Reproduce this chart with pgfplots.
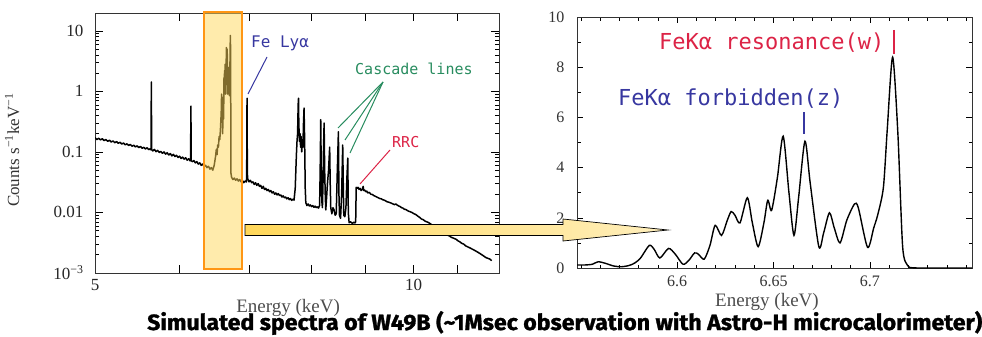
\documentclass[border=0pt]{standalone}
\usepackage{fontspec}
\setmainfont{Liberation Serif}
\newfontfamily\monof{DejaVu Sans Mono}
\newfontfamily\capf{Fira Sans}[BoldFeatures={FakeBold=1.2}]
\usepackage{pgfplots}
\pgfplotsset{compat=1.18}
\definecolor{lblue}{RGB}{55,55,160}
\definecolor{lgreen}{RGB}{40,140,95}
\definecolor{lred}{RGB}{220,35,70}
\definecolor{boxorange}{RGB}{255,150,20}
\definecolor{boxfill}{RGB}{255,215,90}
\begin{document}
\begin{tikzpicture}
\useasboundingbox (0pt,0pt) rectangle (982pt,-337pt);
% ---------------- left panel ----------------
\begin{axis}[
  at={(95pt,-273pt)}, anchor=south west,
  width=404pt, height=260pt, scale only axis,
  xmode=log, ymode=log,
  xmin=5, xmax=12.04, ymin=1e-3, ymax=19.7,
  xtick={5,6,7,8,9,10,11}, xticklabels={5,,,,,10,},
  ytick={0.001,0.01,0.1,1,10},
  yticklabels={10\textsuperscript{−3},0.01,0.1,1,10},
  minor ytick={0.002,0.003,0.004,0.005,0.006,0.007,0.008,0.009,0.02,0.03,0.04,0.05,0.06,0.07,0.08,0.09,0.2,0.3,0.4,0.5,0.6,0.7,0.8,0.9,2,3,4,5,6,7,8,9},
  major tick length=8pt, minor tick length=4pt,
  tick style={black, line width=0.6pt},
  axis line style={black!80, line width=0.8pt},
  ticklabel style={font=\fontsize{17}{17}\selectfont, text=black!85},
  yticklabel style={xshift=-8pt},
  xticklabel style={yshift=-3pt},
  xlabel={Energy (keV)}, ylabel={Counts s\textsuperscript{−1}keV\textsuperscript{−1}},
  every axis x label/.style={at={(rel axis cs:0.478,0)}, anchor=center, yshift=-35pt, font=\fontsize{19}{19}\selectfont, text=black!70},
  every axis y label/.style={at={(rel axis cs:-0.205,0.473)}, anchor=center, rotate=90, font=\fontsize{17}{17}\selectfont, text=black!80},
]
\addplot[black, line width=1.5pt, line join=round] coordinates {
(5.00,0.172)(5.02,0.160)(5.04,0.168)(5.06,0.158)(5.08,0.165)(5.10,0.154)(5.12,0.160)(5.14,0.150)(5.16,0.156)(5.18,0.146)
(5.20,0.152)(5.22,0.142)(5.24,0.148)(5.26,0.139)(5.28,0.144)(5.30,0.135)(5.32,0.140)(5.34,0.131)(5.36,0.136)(5.38,0.128)
(5.40,0.133)(5.42,0.124)(5.44,0.129)(5.46,0.121)(5.48,0.126)(5.50,0.118)(5.52,0.123)(5.54,0.115)(5.56,0.119)(5.58,0.112)
(5.60,0.117)(5.62,0.109)(5.64,0.113)(5.648,0.108)(5.652,1.43)(5.656,0.110)(5.67,0.104)(5.69,0.110)(5.71,0.101)(5.73,0.106)
(5.75,0.098)(5.77,0.102)(5.79,0.095)(5.81,0.100)(5.83,0.092)(5.85,0.097)(5.87,0.089)(5.89,0.094)(5.91,0.086)(5.93,0.091)
(5.95,0.084)(5.97,0.088)(5.99,0.081)(6.01,0.085)(6.03,0.078)(6.05,0.082)(6.07,0.076)(6.09,0.080)(6.11,0.073)(6.13,0.077)
(6.15,0.071)(6.156,0.074)(6.160,0.57)(6.164,0.072)(6.18,0.069)(6.20,0.072)(6.22,0.066)(6.24,0.069)(6.26,0.063)(6.28,0.066)
(6.30,0.060)(6.32,0.063)(6.34,0.057)(6.36,0.060)(6.38,0.055)(6.40,0.058)(6.42,0.052)(6.44,0.055)
(6.46,0.050)(6.48,0.060)(6.50,0.085)(6.51,0.11)(6.52,0.09)(6.53,0.13)(6.54,0.12)(6.55,0.18)(6.56,0.16)(6.57,0.25)
(6.58,0.45)(6.585,0.9)(6.59,0.45)(6.595,0.8)(6.60,0.2)(6.605,0.35)(6.61,0.6)(6.614,0.35)(6.62,1.7)(6.623,1.2)
(6.628,2.2)(6.633,1.8)(6.636,2.8)(6.642,0.9)(6.647,2.7)(6.650,2.3)(6.655,5.3)(6.660,1.3)(6.666,5.0)(6.673,0.9)
(6.679,2.2)(6.685,1.0)(6.692,2.5)(6.699,0.85)(6.704,2.1)(6.707,3.2)(6.712,8.4)(6.715,5.4)(6.717,0.9)(6.720,0.045)
(6.73,0.038)(6.75,0.035)(6.77,0.037)(6.79,0.034)(6.81,0.036)(6.83,0.033)(6.85,0.035)(6.87,0.032)(6.89,0.034)(6.91,0.031)
(6.93,0.033)(6.950,0.032)(6.955,0.040)(6.960,0.77)(6.965,0.045)(6.970,0.036)(6.99,0.032)(7.01,0.034)(7.03,0.031)(7.05,0.032)
(7.07,0.029)(7.09,0.031)(7.11,0.028)(7.13,0.030)(7.15,0.027)(7.17,0.028)(7.19,0.025)(7.21,0.027)(7.23,0.024)(7.25,0.025)
(7.27,0.023)(7.29,0.024)(7.31,0.022)(7.33,0.023)(7.35,0.021)(7.37,0.022)(7.39,0.020)(7.41,0.021)(7.43,0.0195)(7.45,0.0205)
(7.47,0.019)(7.49,0.0195)(7.51,0.018)(7.53,0.0188)(7.55,0.0175)(7.57,0.018)(7.59,0.0168)(7.61,0.0175)(7.63,0.0163)(7.65,0.017)
(7.67,0.0158)(7.69,0.0165)(7.71,0.016)(7.73,0.025)(7.75,0.09)(7.76,0.15)(7.77,0.2)(7.78,0.6)(7.785,0.77)(7.79,0.3)
(7.80,0.15)(7.81,0.2)(7.82,0.12)(7.83,0.18)(7.84,0.1)(7.85,0.15)(7.86,0.12)(7.87,0.3)(7.88,0.53)(7.89,0.15)
(7.90,0.025)(7.91,0.0145)(7.93,0.013)(7.95,0.0138)(7.97,0.0128)(7.99,0.0133)(8.01,0.0125)(8.03,0.013)(8.05,0.0122)(8.07,0.0127)
(8.09,0.012)(8.11,0.0124)(8.13,0.0118)(8.15,0.013)(8.16,0.05)(8.17,0.34)(8.18,0.04)(8.19,0.015)(8.20,0.012)(8.21,0.03)
(8.22,0.12)(8.23,0.30)(8.24,0.05)(8.25,0.02)(8.26,0.011)(8.27,0.015)(8.29,0.03)(8.31,0.05)(8.33,0.12)(8.34,0.03)
(8.35,0.012)(8.37,0.0095)(8.39,0.012)(8.41,0.011)(8.43,0.009)(8.45,0.0095)(8.47,0.05)(8.49,0.215)(8.50,0.02)(8.51,0.009)
(8.53,0.008)(8.55,0.02)(8.57,0.13)(8.58,0.03)(8.59,0.009)(8.61,0.0085)(8.63,0.012)(8.65,0.04)(8.665,0.079)(8.675,0.01)
(8.69,0.0068)(8.72,0.0070)(8.75,0.0066)(8.78,0.0069)(8.80,0.0067)(8.815,0.0070)(8.825,0.026)(8.84,0.025)(8.86,0.026)(8.88,0.024)
(8.90,0.025)(8.92,0.023)(8.94,0.024)(8.96,0.027)(8.97,0.023)(8.99,0.0235)(9.01,0.022)(9.03,0.0225)(9.05,0.021)(9.08,0.0215)
(9.11,0.020)(9.14,0.0198)(9.17,0.019)(9.20,0.0185)(9.23,0.018)(9.26,0.0175)(9.29,0.017)(9.32,0.0168)(9.35,0.0162)(9.38,0.016)
(9.41,0.0155)(9.44,0.015)(9.47,0.0148)(9.50,0.0145)(9.53,0.0142)(9.56,0.0138)(9.59,0.0135)(9.62,0.0138)(9.65,0.0132)(9.68,0.0128)
(9.71,0.0125)(9.74,0.012)(9.77,0.0118)(9.80,0.0113)(9.83,0.0112)(9.86,0.0108)(9.89,0.0105)(9.92,0.0103)(9.95,0.0101)(9.98,0.0098)
(10.01,0.0095)(10.05,0.0092)(10.09,0.0087)(10.13,0.0083)(10.17,0.0078)(10.21,0.0076)(10.25,0.0072)(10.29,0.0070)(10.33,0.0068)(10.37,0.0065)
(10.41,0.0062)(10.45,0.0059)(10.49,0.0057)(10.53,0.0055)(10.57,0.0054)(10.61,0.0050)(10.65,0.0048)(10.69,0.0046)(10.73,0.0044)(10.77,0.0042)
(10.81,0.0041)(10.85,0.0039)(10.89,0.0038)(10.93,0.0037)(10.97,0.0036)(11.01,0.0034)(11.05,0.0033)(11.10,0.0031)(11.15,0.0030)(11.20,0.0028)
(11.25,0.0027)(11.30,0.0026)(11.35,0.0025)(11.40,0.0024)(11.45,0.0023)(11.50,0.0022)(11.55,0.0021)(11.60,0.0020)(11.65,0.0019)(11.70,0.0018)
(11.75,0.00175)(11.80,0.0017)(11.85,0.0016)
};
\end{axis}
% ---------------- right panel ----------------
\begin{axis}[
  at={(577pt,-268pt)}, anchor=south west,
  width=395pt, height=251pt, scale only axis,
  xmin=6.548, xmax=6.753, ymin=0, ymax=10,
  xtick={6.6,6.65,6.7},
  minor xtick={6.55,6.56,6.57,6.58,6.59,6.61,6.62,6.63,6.64,6.65,6.66,6.67,6.68,6.69,6.71,6.72,6.73,6.74,6.75},
  ytick={0,2,4,6,8,10}, minor ytick={1,3,5,7,9},
  /pgf/number format/assume math mode=true,
  major tick length=6pt, minor tick length=3.5pt,
  tick style={black, line width=0.6pt},
  axis line style={black!80, line width=0.8pt},
  ticklabel style={font=\fontsize{16}{16}\selectfont, text=black!80},
  yticklabel style={xshift=-9pt},
  xticklabel style={yshift=-4pt},
  xlabel={Energy (keV)},
  every axis x label/.style={at={(rel axis cs:0.481,0)}, anchor=center, yshift=-34pt, font=\fontsize{19}{19}\selectfont, text=black!70},
]
\addplot[black, line width=1.4pt, smooth, tension=0.45] coordinates {
(6.548,0.12)(6.552,0.12)(6.556,0.15)(6.559,0.25)(6.563,0.18)(6.567,0.08)(6.571,0.05)(6.575,0.1)(6.578,0.2)(6.581,0.4)
(6.5855,0.9)(6.588,0.75)(6.591,0.4)(6.5955,0.78)(6.599,0.55)(6.603,0.15)(6.606,0.3)(6.609,0.6)(6.611,0.55)(6.614,0.35)
(6.617,0.9)(6.6197,1.7)(6.623,1.3)(6.626,1.9)(6.628,2.25)(6.630,2.1)(6.6326,1.8)(6.6364,2.8)(6.639,1.8)(6.642,0.85)
(6.645,1.8)(6.647,2.7)(6.649,2.3)(6.652,3.6)(6.655,5.25)(6.658,3.0)(6.6606,1.3)(6.663,2.8)(6.6663,5.05)(6.669,3.4)
(6.6735,0.85)(6.676,1.4)(6.679,2.2)(6.6815,1.6)(6.6845,1.0)(6.688,1.9)(6.692,2.55)(6.694,2.4)(6.6988,0.82)(6.702,1.6)
(6.704,2.1)(6.707,3.2)(6.709,5.5)(6.7118,8.4)(6.7145,5.4)(6.717,0.85)(6.7196,0.1)(6.722,0.01)(6.73,0.0)(6.753,0.0)
};
\end{axis}
% ---------------- highlight box ----------------
\fill[boxfill, opacity=0.5] (204pt,-12pt) rectangle (242pt,-269pt);
\draw[boxorange, line width=2.5pt] (204pt,-12pt) rectangle (242pt,-269pt);
% ---------------- annotations left ----------------
\node[anchor=west, inner sep=0, text=lblue, font=\monof\fontsize{16}{16}\selectfont] at (251pt,-43pt) {Fe Lyα};
\draw[lblue, line width=1pt] (267pt,-57pt) -- (248pt,-94pt);
\node[anchor=west, inner sep=0, text=lgreen, font=\monof\fontsize{15}{15}\selectfont] at (355pt,-69pt) {Cascade lines};
\draw[lgreen, line width=1pt] (383pt,-82pt) -- (338pt,-128pt);
\draw[lgreen, line width=1pt] (383pt,-82pt) -- (345pt,-140pt);
\draw[lgreen, line width=1pt] (383pt,-82pt) -- (350pt,-153pt);
\node[anchor=west, inner sep=0, text=lred, font=\monof\fontsize{15}{15}\selectfont] at (392pt,-142pt) {RRC};
\draw[lred, line width=1pt] (390pt,-150pt) -- (360pt,-184pt);
% ---------------- annotations right ----------------
\node[anchor=west, inner sep=0, text=lred, font=\monof\fontsize{22}{22}\selectfont] at (659pt,-43pt) {FeKα resonance(w)};
\draw[lred, line width=1.6pt] (894pt,-30pt) -- (894pt,-54pt);
\node[anchor=west, inner sep=0, text=lblue, font=\monof\fontsize{22}{22}\selectfont] at (618pt,-99pt) {FeKα forbidden(z)};
\draw[lblue, line width=1.6pt] (804pt,-112pt) -- (804pt,-134pt);
% ---------------- block arrow ----------------
\draw[black, line width=0.7pt, left color=boxfill, right color=boxfill!40]
  (245pt,-224.5pt) -- (563pt,-224.5pt) -- (563pt,-219pt) -- (668pt,-230pt) -- (563pt,-241pt) -- (563pt,-235.5pt) -- (245pt,-235.5pt) -- cycle;
% ---------------- caption ----------------
\node[anchor=base west, inner sep=0] at (147pt,-330pt) {\resizebox{835pt}{19pt}{\capf\bfseries Simulated spectra of W49B (\textasciitilde 1Msec observation with Astro-H microcalorimeter)}};
\end{tikzpicture}
\end{document}
